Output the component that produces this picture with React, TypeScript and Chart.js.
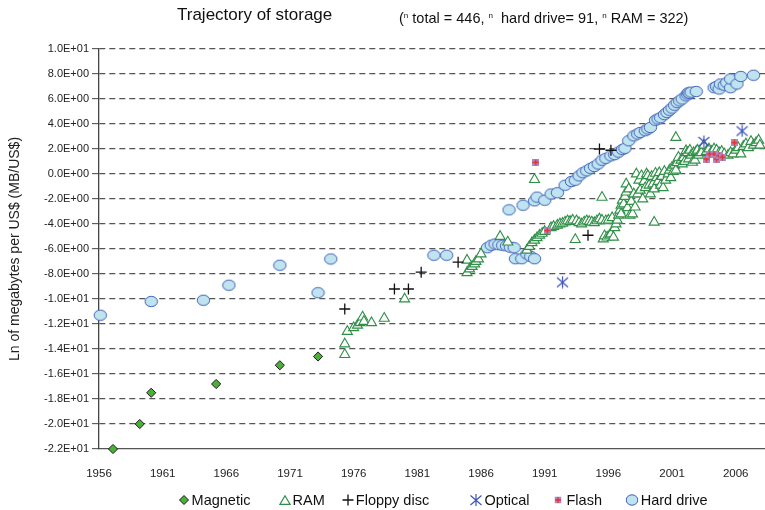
import React, { useEffect, useRef } from "react";
import { Chart, registerables } from "chart.js";

Chart.register(...registerables);

// ---------- data ----------
const xTickValues = [1956, 1961, 1966, 1971, 1976, 1981, 1986, 1991, 1996, 2001, 2006];
const yTickValues = [-22, -20, -18, -16, -14, -12, -10, -8, -6, -4, -2, 0, 2, 4, 6, 8, 10];

const magYears = [1957.1, 1959.2, 1960.1, 1965.2, 1970.2, 1973.2];
const magValues = [-22.0, -20.0, -17.5, -16.8, -15.3, -14.6];

const floppyYears = [1975.3, 1979.2, 1980.3, 1981.3, 1984.2, 1994.4, 1995.3, 1996.2];
const floppyValues = [-10.8, -9.2, -9.2, -7.85, -7.05, -4.9, 2.0, 1.9];

const opticalYears = [1992.4, 2003.5, 2006.5];
const opticalValues = [-8.65, 2.6, 3.45];

const flashYears = [1990.3, 1991.2, 2003.7, 2003.95, 2004.3, 2004.5, 2004.7, 2004.95, 2005.9];
const flashValues = [0.93, -4.53, 1.2, 1.6, 1.6, 1.2, 1.45, 1.35, 2.5];

const hdYears = [
  1956.1, 1960.1, 1964.2, 1966.2, 1970.2, 1973.2, 1974.2, 1982.3, 1983.3,
  1986.5, 1986.8, 1987.1, 1987.4, 1987.7, 1988.0, 1988.3, 1988.6, 1988.7, 1989.2, 1989.6, 1989.9, 1990.2,
  1988.2, 1989.3, 1990.2, 1990.4, 1991.0, 1991.5, 1992.0, 1992.6, 1993.1, 1993.4, 1993.7,
  1994.0, 1994.3, 1994.6, 1994.9, 1995.2, 1995.5, 1995.8, 1996.2, 1996.5, 1996.8, 1997.1,
  1997.3, 1997.6, 1998.0, 1998.3, 1998.5, 1998.9, 1999.1, 1999.3, 1999.7, 1999.9, 2000.1,
  2000.4, 2000.6, 2000.8, 2001.0, 2001.2, 2001.4, 2001.6, 2001.8, 2002.1, 2002.2, 2002.3,
  2002.4, 2002.5, 2002.9, 2004.3, 2004.5, 2004.7, 2004.8, 2005.1, 2005.3, 2005.6, 2005.6,
  2006.1, 2006.4, 2007.4,
];
const hdValues = [
  -11.3, -10.2, -10.1, -8.9, -7.3, -9.5, -6.8, -6.5, -6.5,
  -5.9, -5.7, -5.6, -5.66, -5.7, -5.75, -5.86, -5.9, -6.78, -6.78, -6.4, -6.6, -6.78,
  -2.87, -2.5, -2.15, -1.85, -2.1, -1.6, -1.5, -0.9, -0.6, -0.5, -0.15,
  0.1, 0.25, 0.45, 0.6, 0.8, 1.1, 1.25, 1.45, 1.55, 1.75, 1.95,
  2.05, 2.66, 3.05, 3.2, 3.32, 3.46, 3.6, 3.72, 4.3, 4.4, 4.5,
  4.75, 4.92, 5.1, 5.27, 5.5, 5.71, 5.85, 6.0, 6.25, 6.4, 6.5,
  6.45, 6.55, 6.6, 6.9, 7.0, 6.8, 7.2, 7.1, 7.3, 6.9, 7.6,
  7.2, 7.8, 7.9,
];

const ramYears = [
  1975.3, 1975.3, 1975.5, 1976.0, 1976.3, 1976.5, 1976.7, 1976.8, 1977.4, 1978.4, 1980.0,
  1984.9, 1984.9, 1985.1, 1985.3, 1985.5, 1985.6, 1985.8, 1986.0, 1987.5, 1988.1,
  1989.6, 1989.8, 1990.0, 1990.2, 1990.4, 1990.6, 1990.8, 1991.0, 1990.2, 1991.5, 1991.7,
  1992.0, 1992.2, 1992.4, 1992.6, 1992.8, 1993.0, 1993.2, 1993.4, 1993.5, 1993.7, 1993.9,
  1994.1, 1994.3, 1994.5, 1994.7, 1994.9, 1995.1, 1995.3, 1995.5, 1995.5, 1995.6, 1995.7,
  1995.8, 1995.9, 1996.0, 1996.1, 1996.2, 1996.3, 1996.4, 1996.5, 1996.6, 1996.7, 1996.8,
  1996.9, 1997.0, 1997.0, 1997.1, 1997.2, 1997.3, 1997.4, 1997.4, 1997.5, 1997.6, 1997.7,
  1997.8, 1997.9, 1998.0, 1998.1, 1998.2, 1998.3, 1998.4, 1998.5, 1998.6, 1998.7, 1998.8,
  1998.9, 1999.0, 1999.1, 1999.2, 1999.3, 1999.4, 1999.5, 1999.6, 1999.7, 1999.8, 1999.9,
  2000.0, 2000.1, 2000.2, 2000.3, 2000.4, 2000.5, 1999.6, 2000.7, 2000.8, 2000.9, 2001.0,
  2001.1, 2001.2, 2001.3, 2001.4, 2001.5, 2001.3, 2001.7, 2001.8, 2001.9, 2002.0, 2002.1,
  2002.2, 2002.3, 2002.4, 2002.5, 2002.6, 2002.7, 2002.8, 2002.9, 2003.0, 2003.1, 2003.3,
  2003.5, 2003.7, 2003.9, 2004.1, 2004.3, 2004.5, 2004.7, 2004.9, 2005.1, 2005.4, 2005.6,
  2005.8, 2006.0, 2006.2, 2006.4, 2006.6, 2006.8, 2007.0, 2007.2, 2007.4, 2007.6, 2007.8, 2007.9,
];
const ramValues = [
  -14.45, -13.6, -12.6, -12.3, -12.1, -11.9, -11.45, -11.8, -11.9, -11.55, -10.0,
  -6.9, -7.9, -7.6, -7.4, -7.2, -7.0, -6.8, -6.4, -5.0, -5.45,
  -6.1, -5.8, -5.5, -5.3, -5.1, -4.9, -4.75, -4.6, -0.45, -4.3, -4.2,
  -4.1, -4.0, -3.95, -3.85, -3.75, -3.8, -3.7, -5.25, -3.75, -3.9, -4.0,
  -3.85, -3.75, -3.8, -3.85, -3.9, -3.75, -3.6, -1.87, -3.7, -5.2, -4.95,
  -3.75, -5.05, -3.7, -4.9, -4.8, -3.5, -5.06, -4.3, -4.0, -3.7, -3.3,
  -2.9, -3.2, -2.5, -2.1, -2.4, -1.8, -1.45, -0.8, -2.7, -1.2, -3.3,
  -2.2, -3.2, -1.6, -2.65, 0.0, -1.6, -0.5, -1.3, -0.15, -2.0, -0.6,
  -1.1, 0.0, -0.14, -0.9, -1.6, -0.2, -0.8, -1.2, 0.05, -0.3, -0.6,
  0.1, -0.9, -0.2, -1.1, 0.2, -0.5, -3.86, 0.0, 0.3, -0.3, 0.53,
  0.2, 0.7, 0.3, 0.9, 1.33, 2.92, 1.1, 0.8, 1.3, 1.0, 1.86,
  1.7, 1.2, 1.9, 1.5, 0.93, 1.7, 1.1, 1.8, 1.9, 1.5, 1.7,
  2.3, 1.8, 2.0, 1.8, 2.0, 1.9, 1.7, 1.8, 1.6, 1.5, 1.7,
  1.6, 1.9, 2.1, 1.6, 2.2, 2.4, 2.1, 2.6, 2.3, 2.5, 2.7, 2.3,
];

const legendLabels = ["Magnetic", "RAM", "Floppy disc", "Optical", "Flash", "Hard drive"];

// ---------- helpers ----------
const FONT = "'Liberation Sans', Arial, sans-serif";
const GREEN = "#2f8f47";
const BLUE_EDGE = "#3f5fb8";
const HD_FILL = "#bfe4f0";

function pts(xs: number[], ys: number[]) {
  return xs.map((x, i) => ({ x, y: ys[i] }));
}

function sci(v: number): string {
  const r = Math.round(v * 1e6) / 1e6;
  if (r === 0) return "0.0E+00";
  const e = Math.floor(Math.log10(Math.abs(r)) + 1e-9);
  const m = r / Math.pow(10, e);
  return m.toFixed(1) + "E" + (e < 0 ? "-" : "+") + String(Math.abs(e)).padStart(2, "0");
}

function makeCanvas(w: number, h: number) {
  const c = document.createElement("canvas");
  c.width = w;
  c.height = h;
  return c;
}

function makeOptical(): HTMLCanvasElement {
  const c = makeCanvas(13, 13);
  const g = c.getContext("2d")!;
  g.strokeStyle = "#3d55b8";
  g.lineWidth = 1.2;
  g.beginPath();
  g.moveTo(1, 2);
  g.lineTo(12, 11.5);
  g.moveTo(12, 2);
  g.lineTo(1, 11.5);
  g.moveTo(6.5, 0.5);
  g.lineTo(6.5, 12.5);
  g.stroke();
  return c;
}

function makeFlash(): HTMLCanvasElement {
  const c = makeCanvas(7, 7);
  const g = c.getContext("2d")!;
  g.fillStyle = "#a98cc4";
  g.fillRect(0, 0, 7, 7);
  g.strokeStyle = "#ee2b2b";
  g.lineWidth = 1.4;
  g.beginPath();
  g.moveTo(3.5, 0.5);
  g.lineTo(3.5, 6.5);
  g.moveTo(0.5, 3.5);
  g.lineTo(6.5, 3.5);
  g.stroke();
  return c;
}

function makeDisk(): HTMLCanvasElement {
  const c = makeCanvas(15, 13);
  const g = c.getContext("2d")!;
  g.beginPath();
  g.ellipse(7.5, 6.5, 6.2, 5.2, 0, 0, Math.PI * 2);
  g.fillStyle = HD_FILL;
  g.fill();
  g.strokeStyle = BLUE_EDGE;
  g.lineWidth = 1;
  g.stroke();
  return c;
}

function LegendIcon({ kind }: { kind: number }) {
  if (kind === 0)
    return (
      <svg width="10" height="10">
        <polygon points="5,0.5 9.5,5 5,9.5 0.5,5" fill="#4caf3a" stroke="#1a1a1a" strokeWidth="1" />
      </svg>
    );
  if (kind === 1)
    return (
      <svg width="12" height="10">
        <polygon points="6,0.8 11,9.3 1,9.3" fill="white" stroke={GREEN} strokeWidth="1.2" />
      </svg>
    );
  if (kind === 2)
    return (
      <svg width="12" height="12">
        <path d="M6 0.5 V11.5 M0.5 6 H11.5" stroke="#111" strokeWidth="1.3" />
      </svg>
    );
  if (kind === 3)
    return (
      <svg width="13" height="13">
        <path d="M1 2 L12 11.5 M12 2 L1 11.5 M6.5 0.5 V12.5" stroke="#3d55b8" strokeWidth="1.2" />
      </svg>
    );
  if (kind === 4)
    return (
      <svg width="7" height="7">
        <rect x="0" y="0" width="7" height="7" fill="#a98cc4" />
        <path d="M3.5 0.5 V6.5 M0.5 3.5 H6.5" stroke="#ee2b2b" strokeWidth="1.3" />
      </svg>
    );
  return (
    <svg width="13" height="12">
      <ellipse cx="6.5" cy="6" rx="5.8" ry="5.2" fill={HD_FILL} stroke={BLUE_EDGE} strokeWidth="1" />
    </svg>
  );
}

// icon centers and text lefts for the legend row
const legendIconX = [183.5, 284.7, 347.6, 475.9, 558.3, 632.2];
const legendTextX = [191.6, 292.6, 355.8, 484.4, 566.5, 640.7];

export default function App() {
  const canvasRef = useRef<HTMLCanvasElement | null>(null);

  useEffect(() => {
    const canvas = canvasRef.current;
    if (!canvas) return;
    const opticalImg = makeOptical();
    const flashImg = makeFlash();
    const diskImg = makeDisk();

    const chart = new Chart(canvas, {
      type: "scatter",
      data: {
        datasets: [
          {
            label: "Optical",
            data: pts(opticalYears, opticalValues),
            pointStyle: opticalImg as any,
            pointRadius: 6,
            order: 0,
            clip: false,
          },
          {
            label: "Flash",
            data: pts(flashYears, flashValues),
            pointStyle: flashImg as any,
            pointRadius: 4,
            order: 1,
            clip: false,
          },
          {
            label: "Floppy disc",
            data: pts(floppyYears, floppyValues),
            pointStyle: "cross",
            pointRadius: 5.5,
            borderColor: "#111",
            borderWidth: 1.3,
            order: 2,
            clip: false,
          },
          {
            label: "Magnetic",
            data: pts(magYears, magValues),
            pointStyle: "rectRot",
            pointRadius: 4.6,
            backgroundColor: "#4caf3a",
            borderColor: "#1a1a1a",
            borderWidth: 1,
            order: 3,
            clip: false,
          },
          {
            label: "RAM",
            data: pts(ramYears, ramValues),
            pointStyle: "triangle",
            pointRadius: 5.8,
            backgroundColor: "#ffffff",
            borderColor: GREEN,
            borderWidth: 1.1,
            order: 4,
            clip: false,
          },
          {
            label: "Hard drive",
            data: pts(hdYears, hdValues),
            pointStyle: diskImg as any,
            pointRadius: 6.5,
            order: 5,
            clip: false,
          },
        ],
      },
      options: {
        animation: false,
        responsive: false,
        maintainAspectRatio: false,
        events: [],
        layout: { autoPadding: false, padding: { top: 49, right: 0, bottom: 0, left: 0 } },
        plugins: {
          legend: { display: false },
          title: { display: false },
          tooltip: { enabled: false },
        },
        scales: {
          x: {
            type: "linear",
            min: 1956,
            max: 2008.3,
            afterBuildTicks: (scale: any) => {
              scale.ticks = xTickValues.map((v) => ({ value: v }));
            },
            afterFit: (scale: any) => {
              scale.height = 61;
              scale.paddingRight = 0;
              scale.paddingLeft = 0;
            },
            ticks: {
              autoSkip: false,
              maxRotation: 0,
              padding: 18,
              color: "#222",
              font: { family: FONT, size: 11.5 },
              callback: (v: any) => String(v),
            },
            grid: { display: true, drawOnChartArea: false, drawTicks: false },
            border: { display: true, color: "#555", width: 1.3 },
          },
          y: {
            type: "linear",
            min: -22,
            max: 10,
            afterBuildTicks: (scale: any) => {
              scale.ticks = yTickValues.map((v) => ({ value: v }));
            },
            afterFit: (scale: any) => {
              scale.width = 99;
            },
            ticks: {
              autoSkip: false,
              padding: 3,
              color: "#222",
              font: { family: FONT, size: 11 },
              callback: (v: any) => sci(Number(v)),
            },
            grid: {
              color: (ctx: any) => (ctx.tick && ctx.tick.value === -22 ? "rgba(0,0,0,0)" : "#555"),
              lineWidth: 1.3,
              drawTicks: true,
              tickLength: 7,
              tickColor: "#444",
              tickWidth: 1,
              tickBorderDash: [],
            },
            border: { display: true, color: "#444", width: 1.3, dash: [6, 4] },
            title: {
              display: true,
              text: "Ln of megabytes per US$ (MB/US$)",
              color: "#222",
              font: { family: FONT, size: 14 },
              padding: { top: 7, bottom: 0 },
            },
          },
        },
      } as any,
    });
    return () => chart.destroy();
  }, []);

  const sup = { fontSize: 8, verticalAlign: "5px" } as React.CSSProperties;

  return (
    <div style={{ position: "absolute", left: 0, top: 0, width: 765, height: 510, background: "#fff", fontFamily: FONT, color: "#111" }}>
      <canvas ref={canvasRef} width={765} height={510} style={{ position: "absolute", left: 0, top: 0, width: 765, height: 510 }} />
      <div style={{ position: "absolute", left: 177, top: 4, fontSize: 17, lineHeight: "21px", whiteSpace: "nowrap" }}>Trajectory of storage</div>
      <div style={{ position: "absolute", left: 399, top: 7, fontSize: 14.5, lineHeight: "18px", whiteSpace: "nowrap" }}>
        (<span style={sup}>n</span> total = 446, <span style={sup}>n</span>&nbsp; hard drive= 91, <span style={sup}>n</span> RAM = 322)
      </div>
      {legendLabels.map((lab, i) => (
        <React.Fragment key={lab}>
          <div style={{ position: "absolute", left: legendIconX[i], top: 500, transform: "translate(-50%, -50%)", lineHeight: 0 }}>
            <LegendIcon kind={i} />
          </div>
          <div style={{ position: "absolute", left: legendTextX[i], top: 491, fontSize: 14.5, lineHeight: "18px", whiteSpace: "nowrap" }}>{lab}</div>
        </React.Fragment>
      ))}
    </div>
  );
}
